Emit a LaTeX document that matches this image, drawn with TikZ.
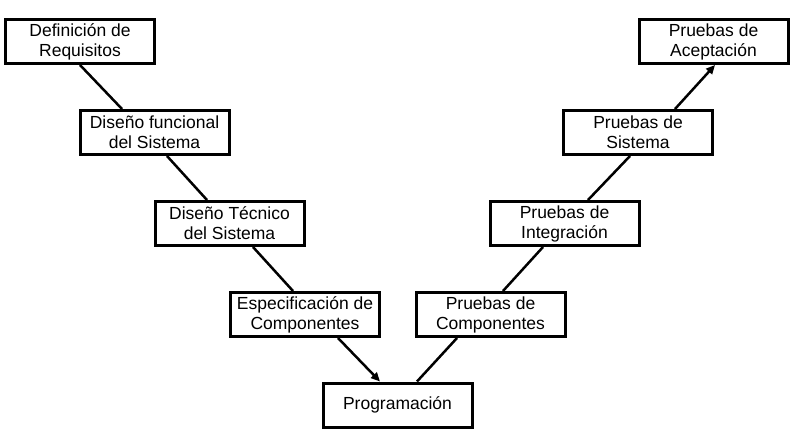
\documentclass[tikz,border=0pt]{standalone}
\usepackage{fontspec}
\setmainfont{Liberation Sans}
\usetikzlibrary{arrows.meta}
\begin{document}
\begin{tikzpicture}
  [x=1pt,y=1pt,every node/.style={draw,line width=3pt,minimum width=149pt,minimum height=44pt,inner sep=0pt,align=center,font=\fontsize{17.5}{20}\selectfont}]
 \useasboundingbox (0,0) rectangle (797,440);
 \node (def) at (80,398.5) {Definición de\\Requisitos};
 \node (dfun) at (154.5,307.5) {Diseño funcional\\del Sistema};
 \node (dtec) at (229.5,216.5) {Diseño Técnico\\del Sistema};
 \node (esp) at (305,125.5) {Especificación de\\Componentes};
 \node (prog) at (397.5,35) {Programación};
 \node (pcomp) at (490.5,125.5) {Pruebas de\\Componentes};
 \node (pint) at (564.5,216.5) {Pruebas de\\Integración};
 \node (psis) at (638,307.5) {Pruebas de\\Sistema};
 \node (pacep) at (713.5,398.5) {Pruebas de\\Aceptación};

 \foreach \from/\a/\to/\b in {def/0/dfun/-32.5,dfun/12.5/dtec/-22.5,dtec/23.5/esp/-12}
    \draw[line width=2.5pt] ([xshift=\a]\from.south) -- ([xshift=\b]\to.north);
 \draw[line width=2.5pt,-{Triangle[length=9pt,width=8pt]}] ([xshift=33]esp.south) -- ([xshift=-17.5]prog.north);

 \foreach \from/\a/\to/\b in {prog/19.5/pcomp/-33.5,pcomp/12.5/pint/-21.5,pint/23.5/psis/-8}
    \draw[line width=2.5pt] ([xshift=\a]\from.north) -- ([xshift=\b]\to.south);
 \draw[line width=2.5pt,-{Triangle[length=9pt,width=8pt]}] ([xshift=37]psis.north) -- ([xshift=1.5]pacep.south);
\end{tikzpicture}
\end{document}
